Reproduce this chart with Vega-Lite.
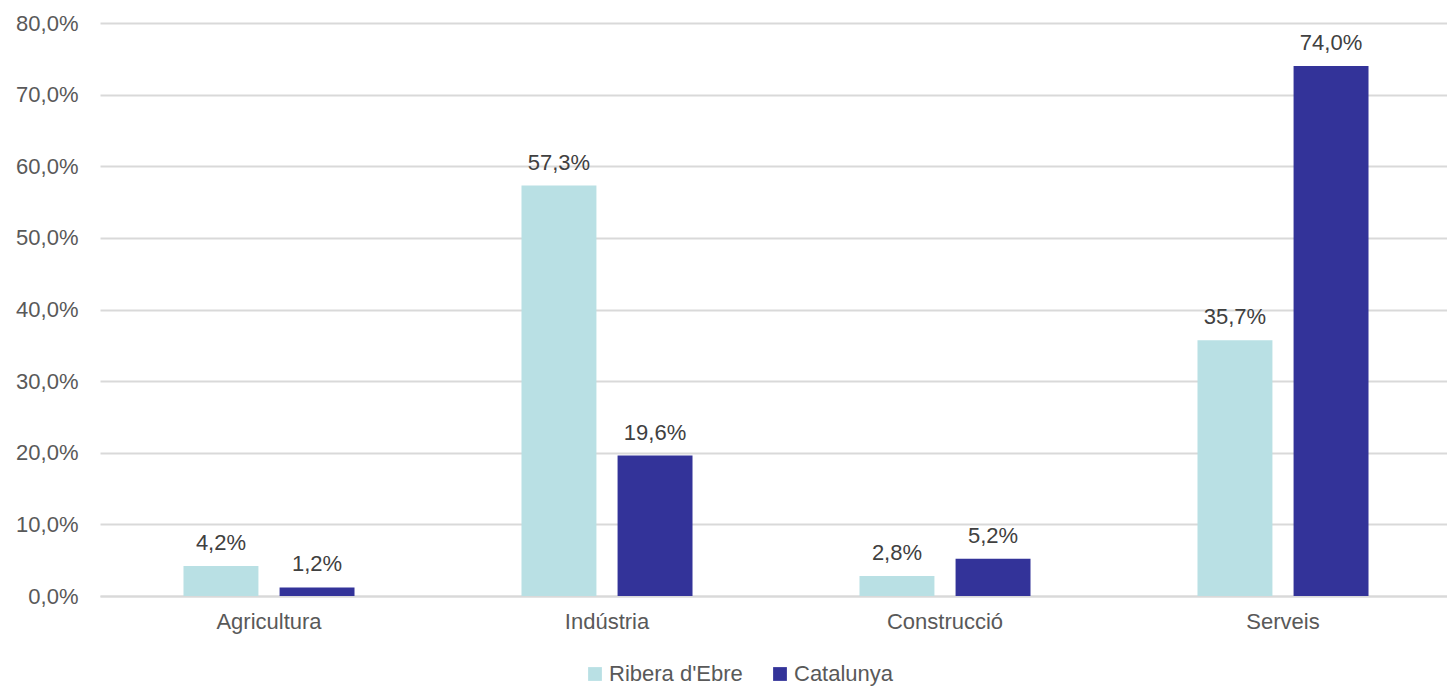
{
  "$schema": "https://vega.github.io/schema/vega-lite/v6.json",
  "width": 1352,
  "height": 573,
  "autosize": {"type": "none"},
  "padding": {"left": 100, "top": 23, "right": 0, "bottom": 91},
  "background": "white",
  "config": {
    "locale": {"number": {"decimal": ",", "thousands": ".", "grouping": [3], "currency": ["", " €"]}},
    "view": {"stroke": null},
    "font": "Liberation Sans"
  },
  "data": {
    "values": [
      {"sector": "Agricultura", "zona": "Ribera d'Ebre", "valor": 0.042},
      {"sector": "Agricultura", "zona": "Catalunya", "valor": 0.012},
      {"sector": "Indústria", "zona": "Ribera d'Ebre", "valor": 0.573},
      {"sector": "Indústria", "zona": "Catalunya", "valor": 0.196},
      {"sector": "Construcció", "zona": "Ribera d'Ebre", "valor": 0.028},
      {"sector": "Construcció", "zona": "Catalunya", "valor": 0.052},
      {"sector": "Serveis", "zona": "Ribera d'Ebre", "valor": 0.357},
      {"sector": "Serveis", "zona": "Catalunya", "valor": 0.740}
    ]
  },
  "encoding": {
    "x": {
      "field": "sector", "type": "nominal",
      "sort": ["Agricultura", "Indústria", "Construcció", "Serveis"],
      "scale": {"paddingInner": 0.494, "paddingOuter": 0.247},
      "axis": {
        "title": null, "labelAngle": 0, "labelFontSize": 22, "labelColor": "#595959",
        "labelFont": "Liberation Sans", "ticks": false, "domainColor": "#D9D9D9", "domainWidth": 2,
        "labelPadding": 15
      }
    },
    "xOffset": {
      "field": "zona", "type": "nominal",
      "sort": ["Ribera d'Ebre", "Catalunya"],
      "scale": {"paddingInner": 0.22, "paddingOuter": 0}
    },
    "y": {
      "field": "valor", "type": "quantitative",
      "scale": {"domain": [0, 0.8]},
      "axis": {
        "title": null, "format": ".1%", "values": [0, 0.1, 0.2, 0.3, 0.4, 0.5, 0.6, 0.7, 0.8],
        "labelFontSize": 22, "labelColor": "#595959", "labelFont": "Liberation Sans",
        "ticks": false, "domain": false, "gridColor": "#D9D9D9", "gridWidth": 2, "labelPadding": 22
      }
    }
  },
  "layer": [
    {
      "mark": {"type": "bar"},
      "encoding": {
        "color": {
          "field": "zona", "type": "nominal",
          "sort": ["Ribera d'Ebre", "Catalunya"],
          "scale": {"domain": ["Ribera d'Ebre", "Catalunya"], "range": ["#B9E0E4", "#333399"]},
          "legend": {
            "title": null, "orient": "none", "direction": "horizontal",
            "legendX": 484, "legendY": 640,
            "symbolType": "square", "symbolSize": 190, "symbolStrokeWidth": 0,
            "labelFontSize": 22, "labelColor": "#595959", "labelFont": "Liberation Sans",
            "columnPadding": 26, "labelOffset": 3
          }
        }
      }
    },
    {
      "mark": {"type": "text", "baseline": "bottom", "dy": -11, "fontSize": 22, "color": "#404040", "font": "Liberation Sans"},
      "encoding": {
        "text": {"field": "valor", "type": "quantitative", "format": ".1%"}
      }
    }
  ]
}
